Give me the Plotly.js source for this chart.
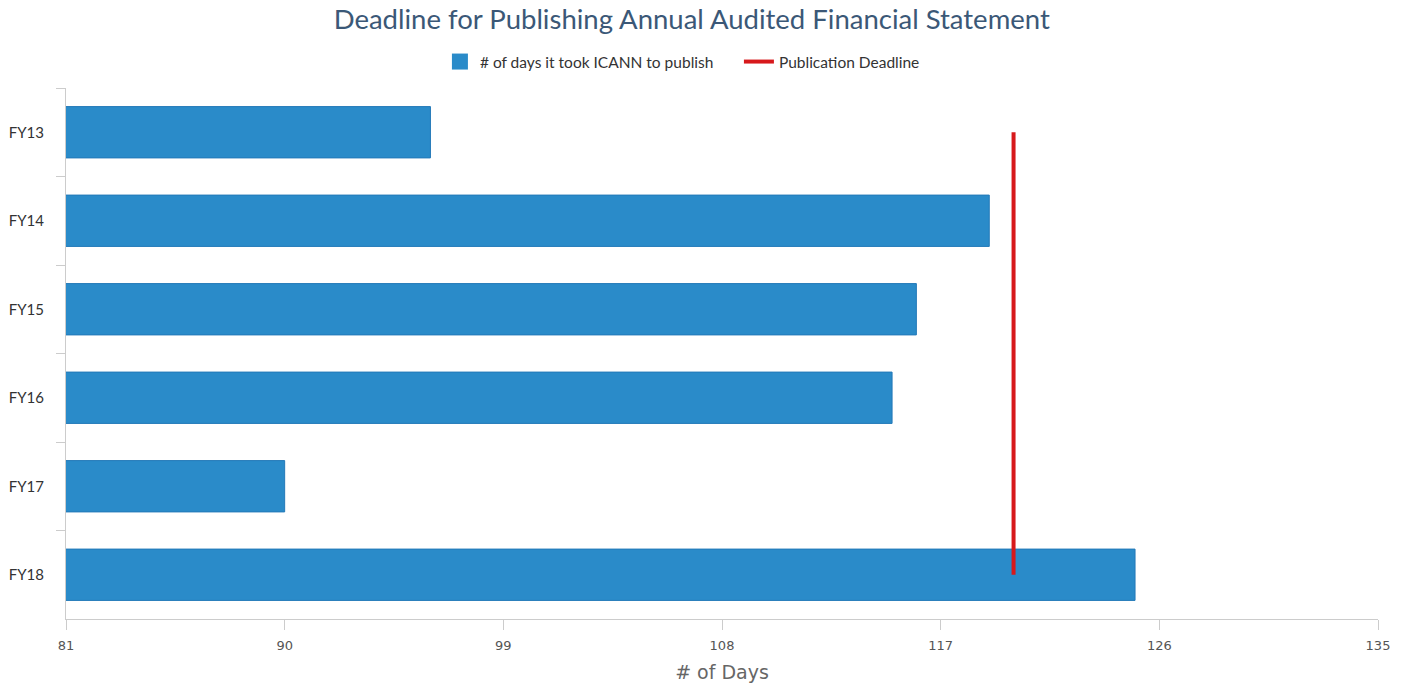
<!DOCTYPE html>
<html>
<head>
<meta charset="utf-8">
<script src="https://cdn.plot.ly/plotly-3.0.1.min.js"></script>
<style>html,body{margin:0;padding:0;background:#fff;}#chart{width:1406px;height:683px;}</style>
</head>
<body>
<div id="chart"></div>
<script>
const categories = ["FY13", "FY14", "FY15", "FY16", "FY17", "FY18"];
const daysToPublish = [96, 119, 116, 115, 90, 125];
const deadlineValue = 120;
const deadlineX = [deadlineValue, deadlineValue];
const deadlineY = [categories[0], categories[categories.length - 1]];
const xTickVals = [81, 90, 99, 108, 117, 126, 135];

const barColor = "#2a8bc9";
const lineColor = "#d7191c";

const traces = [
  {
    type: "bar",
    orientation: "h",
    y: categories,
    x: daysToPublish,
    base: 0,
    width: 0.58,
    marker: { color: barColor, line: { color: "#2379b8", width: 1 } },
    showlegend: false,
    hoverinfo: "x+y"
  },
  {
    type: "scatter",
    mode: "markers",
    x: [null], y: [null],
    name: "# of days it took ICANN to publish",
    marker: { symbol: "square", size: 21, color: barColor },
    showlegend: true
  },
  {
    type: "scatter",
    mode: "lines",
    x: deadlineX,
    y: deadlineY,
    name: "Publication Deadline",
    line: { color: lineColor, width: 4 },
    showlegend: true
  }
];

const layout = {
  width: 1406,
  height: 683,
  paper_bgcolor: "#ffffff",
  plot_bgcolor: "#ffffff",
  margin: { l: 66, r: 28, t: 88, b: 64 },
  title: {
    text: "Deadline for Publishing Annual Audited Financial Statement",
    font: { family: "Lato, 'Open Sans', sans-serif", size: 27.5, color: "#3b5877" },
    x: 0.492, xref: "container", xanchor: "center",
    y: 0.971, yref: "container", yanchor: "middle"
  },
  legend: {
    orientation: "h",
    x: 0.285, xanchor: "left",
    y: 1.049, yanchor: "middle",
    font: { family: "Lato, sans-serif", size: 15.5, color: "#333333" },
    itemwidth: 30,
    entrywidth: 254,
    traceorder: "normal"
  },
  xaxis: {
    range: [81, 135],
    tickmode: "array",
    tickvals: xTickVals,
    ticktext: xTickVals.map(String),
    showgrid: false,
    zeroline: false,
    showline: true,
    linecolor: "#cccccc",
    linewidth: 1,
    ticks: "outside",
    ticklen: 10,
    tickcolor: "#cccccc",
    ticklabelstandoff: 4,
    tickfont: { family: "'DejaVu Sans', Verdana, sans-serif", size: 13, color: "#555555" },
    title: {
      text: "# of Days",
      font: { family: "'DejaVu Sans', Verdana, sans-serif", size: 19, color: "#666666" },
      standoff: 16
    },
    fixedrange: true
  },
  yaxis: {
    type: "category",
    categoryorder: "array",
    categoryarray: categories,
    range: [5.5, -0.5],
    showgrid: false,
    zeroline: false,
    showline: true,
    linecolor: "#cccccc",
    linewidth: 1,
    ticks: "outside",
    tickson: "boundaries",
    ticklen: 9,
    tickcolor: "#cccccc",
    tickfont: { family: "Lato, sans-serif", size: 15, color: "#333333" },
    ticklabelstandoff: 18,
    fixedrange: true
  },
  bargap: 0.42,
  hovermode: "closest"
};

Plotly.newPlot("chart", traces, layout, { displayModeBar: false, responsive: false });
</script>
</body>
</html>
